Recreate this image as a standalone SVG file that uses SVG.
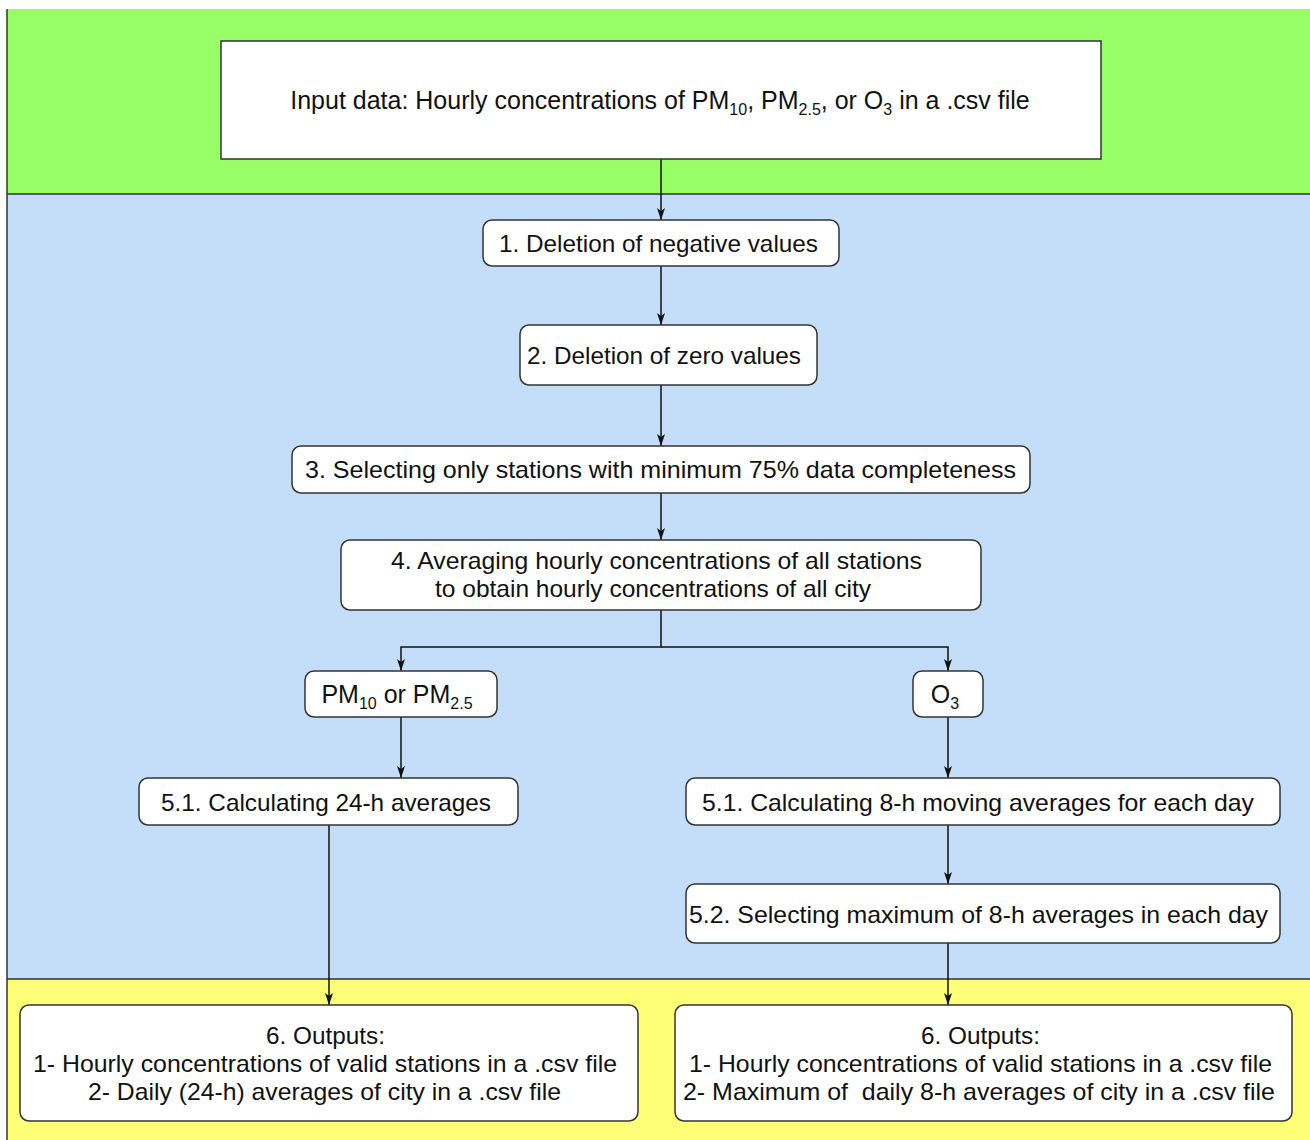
<svg xmlns="http://www.w3.org/2000/svg" width="1310" height="1140" viewBox="0 0 1310 1140">
<defs>
<style>
.node rect{fill:#fff;stroke:#333;stroke-width:1.5}
text{font-family:"Liberation Sans",Arial,sans-serif;font-size:24px;fill:#111;text-anchor:middle;white-space:pre}
.big{font-size:25px}
.sub{font-size:16px}
.conn path{fill:none;stroke:#111;stroke-width:1.5}
</style>
<marker id="arr" viewBox="0 0 12 12" refX="12" refY="6" markerWidth="12" markerHeight="12" markerUnits="userSpaceOnUse" orient="auto">
<path d="M0,2 L12,6 L0,10 L3,6 Z" fill="#111"/>
</marker>
</defs>
<rect x="0" y="0" width="1310" height="1140" fill="#fff"/>
<g id="lanes">
<rect x="7" y="9" width="1303" height="185" fill="#99ff66"/>
<rect x="7" y="194" width="1303" height="785" fill="#c4defa"/>
<rect x="7" y="979" width="1303" height="161" fill="#ffff77"/>
<path d="M7,9 V1140 M7,194 H1310 M7,979 H1310" stroke="#333" stroke-width="1.5" fill="none"/>
</g>
<g class="conn" id="connectors">
<path d="M661,159 V220" marker-end="url(#arr)"/>
<path d="M661,266 V325" marker-end="url(#arr)"/>
<path d="M661,385 V446" marker-end="url(#arr)"/>
<path d="M661,493 V540" marker-end="url(#arr)"/>
<path d="M661,610 V647 H401 V671" marker-end="url(#arr)"/>
<path d="M661,647 H948 V671" marker-end="url(#arr)"/>
<path d="M401,717 V778" marker-end="url(#arr)"/>
<path d="M948,717 V778" marker-end="url(#arr)"/>
<path d="M329,825 V1005" marker-end="url(#arr)"/>
<path d="M948,825 V884" marker-end="url(#arr)"/>
<path d="M948,943 V1005" marker-end="url(#arr)"/>
</g>
<g class="node" id="input">
<rect x="221" y="41" width="880" height="118"/>
<text class="big" x="660" y="109">Input data: Hourly concentrations of PM<tspan class="sub" dy="6">10</tspan><tspan dy="-6">, PM</tspan><tspan class="sub" dy="6">2.5</tspan><tspan dy="-6">, or O</tspan><tspan class="sub" dy="6">3</tspan><tspan dy="-6"> in a .csv file</tspan></text>
</g>
<g class="node" id="n1">
<rect x="483" y="220" width="356" height="46" rx="9"/>
<text x="658.5" y="252" textLength="319" lengthAdjust="spacingAndGlyphs">1. Deletion of negative values</text>
</g>
<g class="node" id="n2">
<rect x="520" y="325" width="297" height="60" rx="9"/>
<text x="664" y="364" textLength="274" lengthAdjust="spacingAndGlyphs">2. Deletion of zero values</text>
</g>
<g class="node" id="n3">
<rect x="292" y="446" width="738" height="47" rx="9"/>
<text x="660.5" y="478" textLength="711" lengthAdjust="spacingAndGlyphs">3. Selecting only stations with minimum 75% data completeness</text>
</g>
<g class="node" id="n4">
<rect x="341" y="540" width="640" height="70" rx="9"/>
<text x="656.5" y="569" textLength="531" lengthAdjust="spacingAndGlyphs">4. Averaging hourly concentrations of all stations</text>
<text x="653" y="597" textLength="436" lengthAdjust="spacingAndGlyphs">to obtain hourly concentrations of all city</text>
</g>
<g class="node" id="pm">
<rect x="305" y="671" width="192" height="46" rx="9"/>
<text class="big" x="397" y="703">PM<tspan class="sub" dy="6">10</tspan><tspan dy="-6"> or PM</tspan><tspan class="sub" dy="6">2.5</tspan></text>
</g>
<g class="node" id="o3">
<rect x="913" y="671" width="70" height="46" rx="9"/>
<text class="big" x="945" y="703">O<tspan class="sub" dy="6">3</tspan></text>
</g>
<g class="node" id="n51a">
<rect x="139" y="778" width="379" height="47" rx="9"/>
<text x="326" y="811" textLength="330" lengthAdjust="spacingAndGlyphs">5.1. Calculating 24-h averages</text>
</g>
<g class="node" id="n51b">
<rect x="686" y="778" width="594" height="47" rx="9"/>
<text x="978" y="811" textLength="552" lengthAdjust="spacingAndGlyphs">5.1. Calculating 8-h moving averages for each day</text>
</g>
<g class="node" id="n52">
<rect x="686" y="884" width="594" height="59" rx="9"/>
<text x="978.5" y="923" textLength="579" lengthAdjust="spacingAndGlyphs">5.2. Selecting maximum of 8-h averages in each day</text>
</g>
<g class="node" id="out1">
<rect x="20" y="1005" width="618" height="116" rx="9"/>
<text x="325.5" y="1044" textLength="119" lengthAdjust="spacingAndGlyphs">6. Outputs:</text>
<text x="325" y="1072" textLength="584" lengthAdjust="spacingAndGlyphs">1- Hourly concentrations of valid stations in a .csv file</text>
<text x="324.5" y="1100" textLength="473" lengthAdjust="spacingAndGlyphs">2- Daily (24-h) averages of city in a .csv file</text>
</g>
<g class="node" id="out2">
<rect x="675" y="1005" width="617" height="116" rx="9"/>
<text x="980.5" y="1044" textLength="119" lengthAdjust="spacingAndGlyphs">6. Outputs:</text>
<text x="980.5" y="1072" textLength="583" lengthAdjust="spacingAndGlyphs">1- Hourly concentrations of valid stations in a .csv file</text>
<text x="979" y="1100" textLength="592" lengthAdjust="spacingAndGlyphs">2- Maximum of  daily 8-h averages of city in a .csv file</text>
</g>
</svg>
